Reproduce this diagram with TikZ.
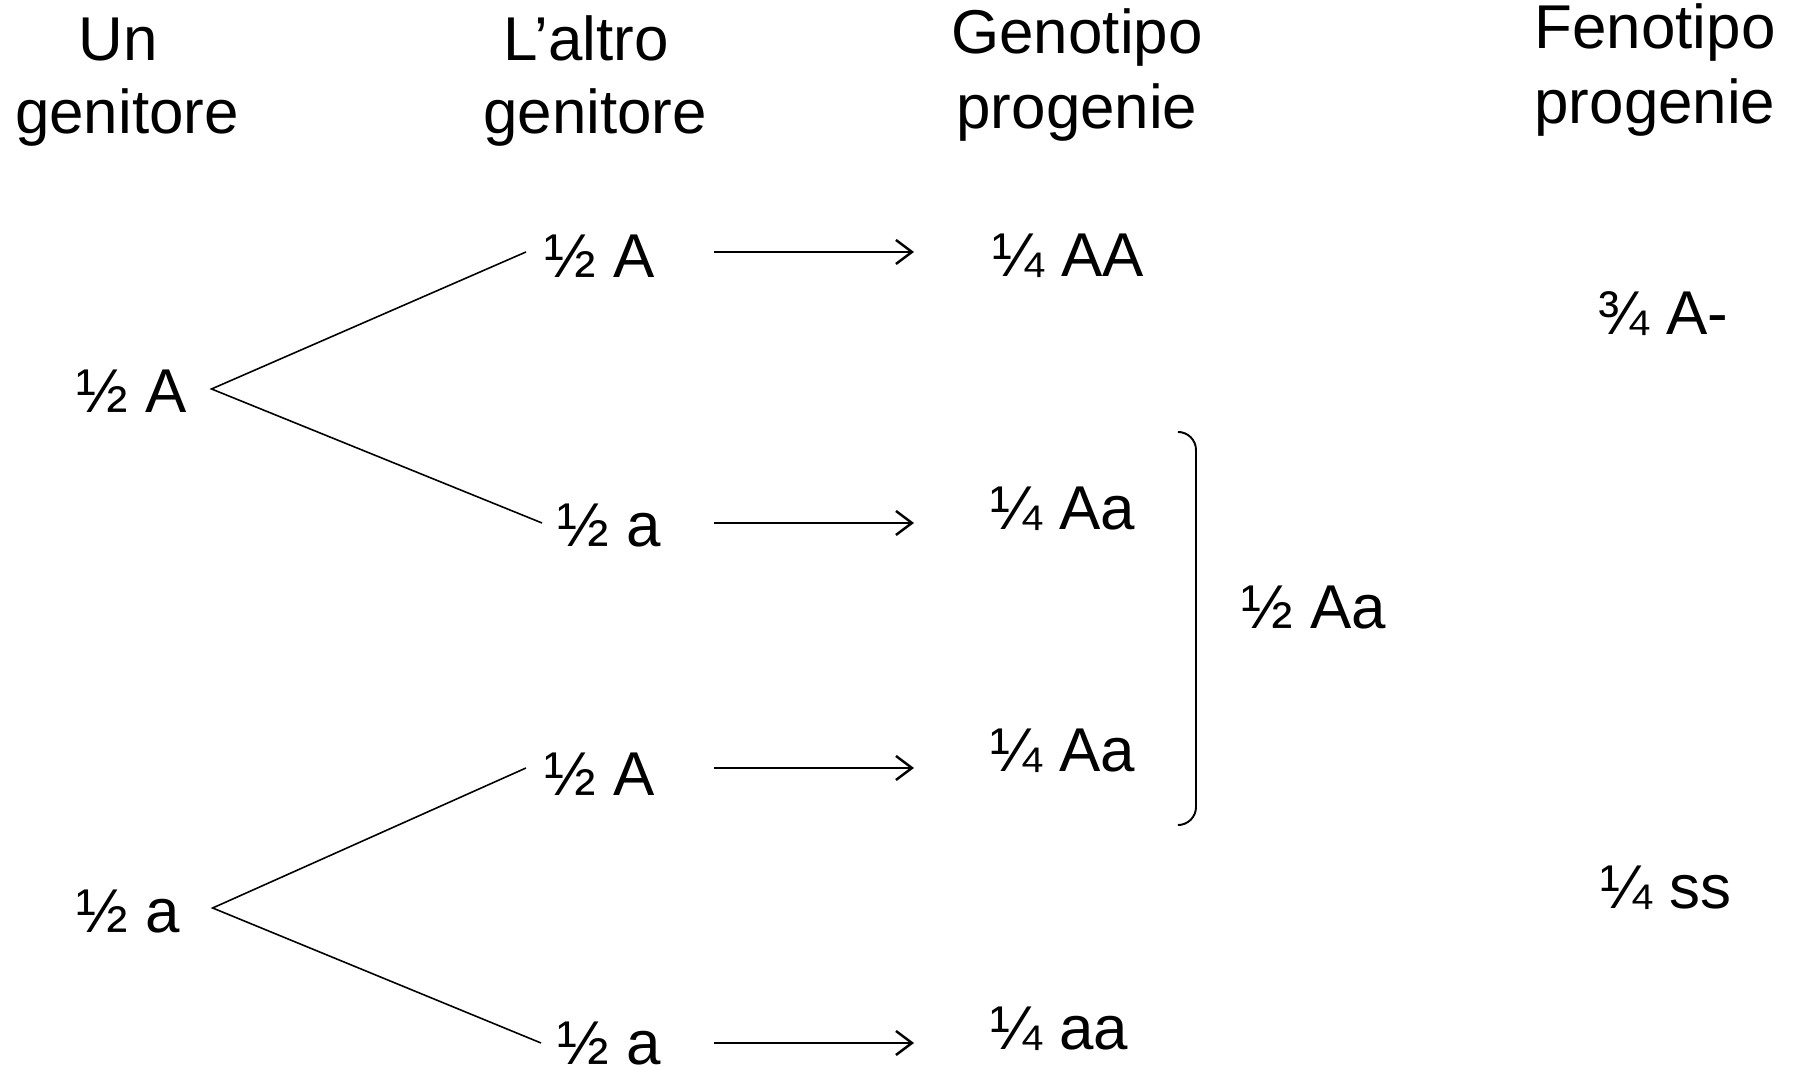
\documentclass[tikz,border=0pt]{standalone}
\usepackage{fontspec}
\setmainfont{Liberation Sans}
\usetikzlibrary{arrows.meta}
\begin{document}
\begin{tikzpicture}[x=0.01cm,y=-0.01cm,
  txt/.style={inner sep=0pt, font=\fontsize{17.6pt}{21pt}\selectfont},
  lab/.style={txt, anchor=base west, text height=0.48cm, text depth=0pt},
  head/.style={txt, anchor=base},
  branch/.style={line width=0.45pt},
  arr/.style={line width=0.7pt, -{Straight Barb[length=1.6mm,width=2.4mm]}},
  bracket/.style={line width=0.55pt, rounded corners=0.18cm}]
\useasboundingbox (0,0) rectangle (1798,1068);
% headers
\node[head] (h1a) at (118,61) {Un};
\node[head] (h1b) at (127,134) {genitore};
\node[head] (h2a) at (586,61) {L’altro};
\node[head] (h2b) at (595,134) {genitore};
\node[head] (h3a) at (1077,54) {Genotipo};
\node[head] (h3b) at (1077,129) {progenie};
\node[head] (h4a) at (1655,49) {Fenotipo};
\node[head] (h4b) at (1655,124) {progenie};
% parent 1
\node[lab] (p1) at (76,413) {½ A};
\node[lab] (p2) at (76,932) {½ a};
% parent 2
\node[lab] (c1) at (544,278) {½ A};
\node[lab] (c2) at (557,547) {½ a};
\node[lab] (c3) at (544,795) {½ A};
\node[lab] (c4) at (557,1064) {½ a};
% genotypes
\node[lab] (g1) at (992,277) {¼ AA};
\node[lab] (g2) at (990,530) {¼ Aa};
\node[lab] (g3) at (990,772) {¼ Aa};
\node[lab] (g4) at (990,1049) {¼ aa};
\node[lab] (hz) at (1241,629) {½ Aa};
% phenotypes
\node[lab] (f1) at (1597,335) {¾ A-};
\node[lab] (f2) at (1600,908) {¼ ss};
% branch points
\coordinate (a1) at ([xshift=0.24cm]p1.east);
\coordinate (a2) at ([xshift=0.32cm]p2.east);
\coordinate (e1) at ([xshift=-0.18cm,yshift=0.02cm]c1.west);
\coordinate (e2) at ([xshift=-0.15cm]c2.west);
\coordinate (e3) at ([xshift=-0.18cm,yshift=0.03cm]c3.west);
\coordinate (e4) at ([xshift=-0.16cm,yshift=-0.03cm]c4.west);
\draw[branch] (e1) -- (a1) -- (e2);
\draw[branch] (e3) -- (a2) -- (e4);
% arrows
\coordinate (as) at (714,0);
\coordinate (ae) at (914,0);
\draw[arr] (e1 -| as) -- (e1 -| ae);
\draw[arr] (e2 -| as) -- (e2 -| ae);
\draw[arr] (e3 -| as) -- (e3 -| ae);
\draw[arr] (e4 -| as) -- (e4 -| ae);
% bracket
\coordinate (bt) at (1181,432);
\coordinate (bb) at (1181,825);
\coordinate (bx) at (1196,0);
\draw[bracket] (bt) -| (bb -| bx) -- (bb);
\end{tikzpicture}
\end{document}
